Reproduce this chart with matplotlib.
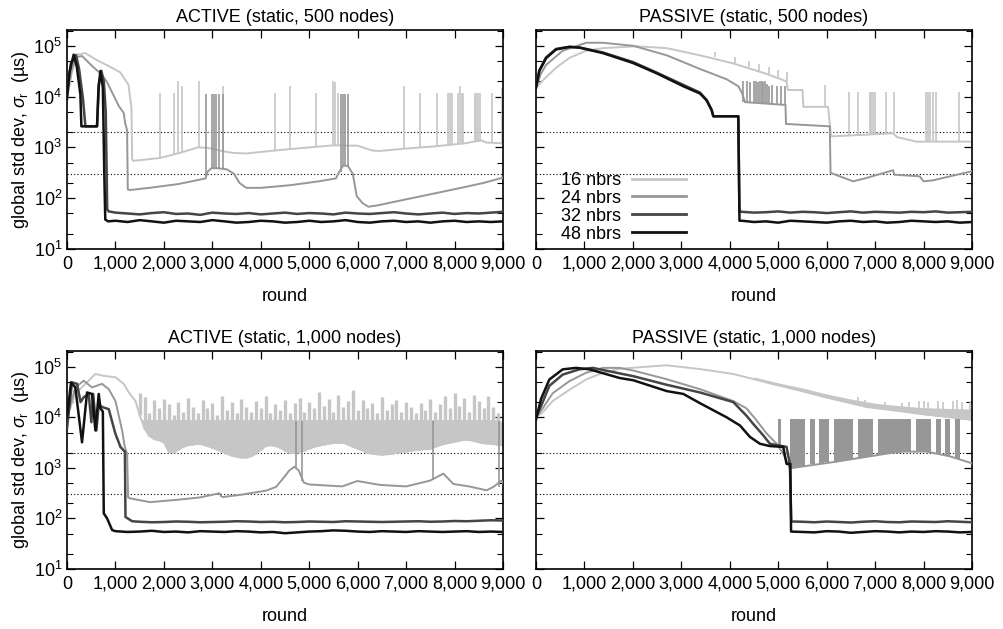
import numpy as np
import matplotlib
matplotlib.use('Agg')
import matplotlib.pyplot as plt
from matplotlib.lines import Line2D
from matplotlib.ticker import FuncFormatter, LogLocator

plt.rcParams['font.family'] = ['Liberation Sans', 'DejaVu Sans']
plt.rcParams['mathtext.fontset'] = 'custom'
plt.rcParams['mathtext.rm'] = 'Liberation Sans'
plt.rcParams['mathtext.it'] = 'Liberation Sans:italic'

## colours for 16 / 24 / 32 / 48 neighbours
c16, c24, c32, c48 = '#c6c6c6', '#979797', '#454545', '#111111'
labels = ['16 nbrs', '24 nbrs', '32 nbrs', '48 nbrs']
thresholds = [2000, 300]

### ACTIVE, 500 nodes
a5_x16 = [0, 100, 207, 380, 590, 860, 1100, 1270, 1330, 1345, 1360, 1500, 1920, 2330, 2700, 2900, 3220, 3430, 3700,
          4400, 5000, 5500, 6000, 6300, 6450, 7000, 7600, 8200, 8550, 8650, 9000]
a5_y16 = [9000, 3e4, 6.7e4, 7.2e4, 5.4e4, 4e4, 3e4, 1.7e4, 6000, 600, 545, 560, 620, 780, 1000, 980, 840, 780, 760,
          890, 1000, 1100, 1080, 870, 850, 950, 1050, 1200, 1380, 1250, 1200]
a5_s16x = [1920, 2200, 2300, 2370, 2720, 3220, 4300, 4610, 5140, 5500, 5530, 5590, 6950, 7290, 7640, 7870, 7900,
           7940, 8080, 8110, 8150, 8180, 8420, 8450, 8490, 8520, 8780, 8980]
a5_s16lo = [620, 740, 770, 790, 1000, 840, 850, 900, 1000, 1100, 1100, 1100, 950, 1000, 1050, 1100, 1100, 1100,
            1150, 1150, 1150, 1150, 1250, 1250, 1300, 1300, 1250, 1200]
a5_s16hi = [1.2e4, 1.2e4, 2e4, 1.6e4, 2e4, 1.6e4, 1.2e4, 1.65e4, 1.2e4, 2e4, 1.9e4, 1.2e4, 1.65e4, 1.2e4, 1.2e4,
            1.2e4, 1.2e4, 1.2e4, 1.2e4, 1.65e4, 1.2e4, 1.2e4, 1.2e4, 1.2e4, 1.2e4, 1.2e4, 1.2e4, 1.5e4]

a5_x24 = [0, 100, 200, 310, 520, 720, 830, 1070, 1170, 1200, 1240, 1255, 1300, 1700, 2300, 2860, 2900, 2980, 3100,
          3300, 3450, 3560, 3700, 4000, 4600, 5200, 5550, 5620, 5700, 5800, 5900, 5980, 6100, 6220, 6400, 7000,
          7600, 8200, 8600, 9000]
a5_y24 = [1e4, 3.5e4, 6e4, 6.3e4, 4e4, 2.7e4, 1.9e4, 6500, 4800, 3000, 2200, 148, 145, 160, 190, 245, 330, 390,
          390, 370, 300, 200, 160, 160, 180, 215, 245, 330, 440, 430, 300, 110, 80, 68, 72, 95, 125, 165, 200, 255]
a5_s24x = [2870, 2990, 3030, 3070, 3140, 3230, 5650, 5690, 5745, 5810]
a5_s24lo = [245, 385, 390, 390, 390, 380, 330, 430, 440, 430]
a5_s24hi = [1.15e4] * 10

a5_x32 = [0, 80, 186, 250, 330, 380, 620, 660, 710, 760, 800, 830, 860]
a5_y32 = [1.2e4, 4.5e4, 6.6e4, 3.5e4, 9000, 2600, 2600, 1.8e4, 3.2e4, 2e4, 5000, 60, 55]
a5_x48 = [0, 50, 138, 200, 276, 297, 620, 650, 690, 740, 770, 790, 850]
a5_y48 = [9000, 3e4, 6.7e4, 4e4, 1.1e4, 2600, 2600, 1.5e4, 3.2e4, 1.5e4, 300, 38, 35]
a5_tail_x = np.arange(1000, 9001, 250)
a5_tail32 = [52, 50, 48, 51, 53, 49, 50, 47, 52, 50, 49, 51, 48, 50, 52, 49, 51, 50, 48, 52, 50, 49, 51, 53, 50,
             48, 50, 52, 49, 51, 50, 52, 54]
a5_tail48 = [36, 34, 37, 35, 33, 36, 35, 34, 37, 35, 33, 34, 36, 35, 33, 34, 36, 34, 35, 37, 34, 33, 35, 36, 34,
             35, 33, 35, 36, 34, 35, 34, 35]

### PASSIVE, 500 nodes
p5_x16 = [0, 100, 207, 414, 690, 1034, 1379, 2069, 2700, 3386, 4073, 4760, 5170, 5200, 5500, 5520, 6030, 6090,
          6820, 7370, 7450, 7850, 9000]
p5_y16 = [1.5e4, 1.9e4, 2.4e4, 3.7e4, 5.8e4, 8e4, 9e4, 9.8e4, 9e4, 6.5e4, 4.5e4, 2.8e4, 2e4, 1.35e4, 1.35e4, 6300,
          6300, 1650, 1780, 1900, 1600, 1300, 1300]
p5_s16x = [3700, 4100, 4400, 4600, 4800, 5000, 5180, 5960, 6460, 6650, 6890, 6920, 6960, 6990, 7230, 7400, 8060,
           8100, 8140, 8200, 8260, 8740]
p5_s16lo = [6e4, 4.6e4, 3.8e4, 3.2e4, 2.8e4, 2.4e4, 2e4, 6300, 1700, 1750, 1780, 1780, 1790, 1790, 1850, 1900,
            1300, 1300, 1300, 1300, 1300, 1300]
p5_s16hi = [7.5e4, 6e4, 5e4, 4.4e4, 3.8e4, 3.4e4, 3e4, 1.7e4, 1.25e4, 1.25e4, 1.25e4, 1.25e4, 1.25e4, 1.25e4,
            1.25e4, 1.25e4, 1.25e4, 1.25e4, 1.25e4, 1.25e4, 1.25e4, 1.25e4]

p5_x24 = [0, 100, 207, 552, 1034, 1379, 2012, 2700, 3386, 3935, 4176, 4250, 4313, 5103, 5150, 5160, 6065, 6080,
          6545, 6820, 7370, 7400, 7920, 8000, 8194, 9000]
p5_y24 = [1.5e4, 2.8e4, 4.2e4, 8e4, 1.15e5, 1.15e5, 1e5, 6.5e4, 3.5e4, 2.2e4, 1.6e4, 1.2e4, 7800, 6900, 6900,
          2900, 2600, 316, 215, 250, 355, 290, 270, 215, 225, 340]
p5_s24x = [4280, 4350, 4420, 4490, 4550, 4590, 4620, 4660, 4690, 4730, 4760, 4810, 4880, 4970, 5050, 5140]
p5_s24lo = [7700, 7600, 7500, 7400, 7400, 7300, 7300, 7300, 7200, 7200, 7200, 7100, 7100, 7000, 6900, 6900]
p5_s24hi = [2e4, 2e4, 1.9e4, 2e4, 2e4, 1.9e4, 2e4, 2e4, 1.9e4, 2e4, 1.8e4, 1.6e4, 1.7e4, 1.6e4, 1.6e4, 1.6e4]

p5_x32 = [0, 69, 207, 414, 690, 897, 1379, 2000, 2483, 3042, 3386, 3523, 3626, 3660, 4176, 4200]
p5_y32 = [1.5e4, 3.3e4, 5.9e4, 8.7e4, 9.6e4, 9.3e4, 7.4e4, 4.8e4, 3e4, 1.7e4, 1.2e4, 8600, 5500, 4100, 4100, 55]
p5_x48 = [0, 69, 207, 414, 690, 897, 1379, 2000, 2483, 3042, 3386, 3523, 3626, 3660, 4176, 4200]
p5_y48 = [1.5e4, 3.2e4, 5.7e4, 8.5e4, 9.5e4, 9.2e4, 7.2e4, 4.6e4, 2.9e4, 1.6e4, 1.15e4, 8400, 5400, 4100, 4100, 36]
p5_tail_x = np.arange(4250, 9001, 250)
p5_tail32 = [54, 52, 53, 55, 52, 54, 53, 51, 53, 55, 52, 54, 53, 52, 54, 53, 55, 52, 53, 54]
p5_tail48 = [36, 34, 35, 33, 36, 35, 34, 33, 35, 36, 34, 35, 33, 34, 36, 35, 34, 35, 33, 34]

### ACTIVE, 1,000 nodes
a1_x16 = [0, 172, 380, 586, 759, 1000, 1172, 1276, 1414]
a1_y16 = [1e4, 2.9e4, 4.6e4, 7.2e4, 6.6e4, 6.2e4, 4.6e4, 3.1e4, 2.1e4]
a1_band_x = np.arange(1500, 9001, 100)
a1_band_lo = [1.1e4, 6000, 4300, 3700, 3500, 3200, 2100, 2000, 2300, 2600,
              2800, 2900, 3000, 2900, 2700, 2500, 2300, 2100, 1900, 1750,
              1650, 1600, 1600, 1700, 1900, 2300, 2700, 2800, 2700, 2500,
              2200, 2000, 2000, 2100, 2200, 2400, 2600, 2750, 2900, 3000,
              3100, 3150, 3100, 2900, 2600, 2400, 2200, 2000, 1900, 1850,
              1820, 1850, 1900, 2000, 2050, 2100, 2200, 2250, 2300, 2350,
              2400, 2600, 2800, 3000, 3150, 3300, 3450, 3600, 3550, 3400,
              3200, 3050, 3000, 2950, 2850, 2800]
a1_band_hi = [3e4, 2.5e4, 1.2e4, 2.2e4, 1.5e4, 2.3e4, 1.8e4, 1.1e4, 2e4, 1.3e4,
              2.4e4, 1.6e4, 1.2e4, 2.2e4, 1.5e4, 1.9e4, 1.1e4, 2.7e4, 1.4e4, 2e4,
              1.2e4, 2.3e4, 1.6e4, 1.3e4, 2.1e4, 1.5e4, 2.6e4, 1.2e4, 1.8e4, 1.4e4,
              2.2e4, 1.2e4, 1.9e4, 2.4e4, 1.3e4, 2e4, 1.5e4, 3.2e4, 1.7e4, 2.3e4,
              1.3e4, 2.8e4, 1.6e4, 2.1e4, 3.4e4, 1.4e4, 2.2e4, 1.5e4, 1.9e4, 1.2e4,
              2.5e4, 1.4e4, 1.8e4, 2.2e4, 1.3e4, 2e4, 1.6e4, 1.2e4, 1.9e4, 1.4e4,
              2.3e4, 1.3e4, 1.8e4, 2.6e4, 1.5e4, 3e4, 1.7e4, 2.4e4, 1.3e4, 2.8e4,
              2.1e4, 1.5e4, 2.6e4, 1.6e4, 1.2e4, 8000]
a1_band_solid = 9000

a1_x24 = [0, 172, 345, 517, 724, 862, 1000, 1138, 1193, 1241, 1262, 1300, 1712, 2300, 2740, 3150, 3180, 3220, 3600,
          4110, 4315, 4450, 4590, 4690, 4780, 4890, 5000, 5680, 5994, 6462, 7000, 7494, 7769, 7975, 8300, 8663,
          8800, 8970, 9000]
a1_y24 = [1e4, 3.9e4, 5.3e4, 3.9e4, 4.6e4, 3.6e4, 2.1e4, 5500, 2600, 1900, 260, 250, 210, 235, 260, 315, 275, 265,
          295, 355, 420, 600, 890, 1050, 900, 510, 470, 430, 550, 460, 430, 560, 770, 480, 430, 360, 420, 560, 500]
a1_s24x = [4720, 4860, 7560, 8925]
a1_s24lo = [1000, 560, 580, 420]
a1_s24hi = [8300, 8300, 8300, 8300]

a1_x32 = [0, 103, 207, 280, 345, 448, 503, 540, 607, 655, 724, 862, 1000, 1103, 1172, 1195, 1207, 1345]
a1_y32 = [6000, 4.9e4, 4.6e4, 2e4, 2.5e4, 2.9e4, 8000, 2.9e4, 5500, 1.8e4, 1.6e4, 1.45e4, 4700, 2600, 2200, 2100,
          107, 88]
a1_tail32_x = np.arange(1500, 9001, 250)
a1_tail32 = [86, 84, 85, 87, 86, 84, 85, 86, 88, 87, 85, 86, 84, 85, 87, 86, 85, 88, 87, 86, 85, 86, 87, 88, 86,
             87, 89, 88, 90, 92, 91]
a1_x48 = [0, 83, 172, 310, 414, 517, 586, 655, 690, 740, 759, 828, 931]
a1_y48 = [1e4, 4.9e4, 3.9e4, 3200, 3.1e4, 2.9e4, 5500, 2.9e4, 1.5e4, 1.3e4, 126, 100, 59]
a1_tail48_x = np.arange(1000, 9001, 250)
a1_tail48 = [56, 54, 55, 57, 54, 55, 53, 56, 55, 54, 56, 55, 53, 54, 51, 53, 55, 56, 58, 57, 55, 54, 56, 55, 54,
             56, 55, 54, 55, 56, 54, 55, 54]

### PASSIVE, 1,000 nodes
p1_x16 = [0, 138, 345, 690, 1034, 1379, 1724, 2276, 2690, 3386, 4073, 4760, 5447, 6133, 6820, 7507, 8194, 9000]
p1_y16 = [1e4, 1.25e4, 2.1e4, 3.5e4, 5.6e4, 7.6e4, 9.1e4, 1e5, 1.07e5, 9e4, 7.2e4, 4.9e4, 3.4e4, 2.3e4, 1.6e4,
          1.35e4, 1.1e4, 9000]
p1_b16x = [4500, 5000, 5500, 6000, 6500, 7000, 7500, 8000, 8500, 9000]
p1_b16lo = [5.6e4, 4.2e4, 3.2e4, 2.4e4, 1.9e4, 1.5e4, 1.3e4, 1.12e4, 1e4, 8700]
p1_b16hi = [6.3e4, 4.8e4, 3.8e4, 2.9e4, 2.3e4, 1.9e4, 1.7e4, 1.55e4, 1.5e4, 1.45e4]
p1_s16x = [6650, 6800, 7200, 7550, 7700, 7900, 8000, 8100, 8300, 8400, 8600, 8700, 8800, 8950]
p1_s16lo = [1.8e4, 1.7e4, 1.5e4, 1.3e4, 1.25e4, 1.2e4, 1.15e4, 1.1e4, 1.05e4, 1e4, 9500, 9300, 9000, 8800]
p1_s16hi = [2.5e4, 2.2e4, 2e4, 1.9e4, 2e4, 2.1e4, 2.1e4, 2e4, 2.1e4, 2e4, 2.1e4, 2.2e4, 2e4, 2.1e4]

p1_x24 = [0, 138, 345, 690, 1034, 1379, 1724, 2012, 2690, 3386, 4073, 4347, 4553, 4760, 4966, 5103, 5240, 5300,
          6133, 6820, 7507, 8056, 8537, 9000]
p1_y24 = [1e4, 1.5e4, 3e4, 5.2e4, 7.6e4, 9.5e4, 9.5e4, 8.4e4, 5.7e4, 3.6e4, 2.1e4, 1.5e4, 8700, 4800, 3000, 1900,
          980, 1000, 1300, 1650, 2100, 2100, 1700, 1230]
p1_band_x = np.arange(5000, 8801, 100)
p1_band_lo = [2800, 1900, 1200, 1000, 1050, 1100, 1150, 1200, 1230, 1260,
              1300, 1330, 1370, 1400, 1450, 1500, 1550, 1600, 1650, 1700,
              1750, 1800, 1850, 1900, 1950, 2000, 2050, 2100, 2100, 2100,
              2100, 2050, 2000, 1900, 1800, 1700, 1600, 1500, 1400]
p1_band_on = [1, 0, 0, 1, 1, 1, 0, 1, 0, 1,
              1, 0, 1, 1, 1, 1, 0, 1, 1, 1,
              0, 1, 1, 1, 1, 1, 1, 1, 0, 1,
              1, 1, 0, 1, 0, 1, 0, 1, 0]
p1_band_top = 9300

p1_x32 = [0, 103, 276, 552, 897, 1172, 1724, 2012, 2700, 3386, 4073, 4347, 4485, 4691, 4828, 5172, 5240, 5270]
p1_y32 = [1e4, 1.65e4, 4.2e4, 7e4, 8.9e4, 9.5e4, 7.4e4, 6.5e4, 4.4e4, 3.1e4, 2e4, 1.07e4, 7400, 4400, 3000, 2600,
          1200, 87]
p1_x48 = [0, 103, 276, 552, 828, 1103, 1724, 2012, 2700, 3042, 3386, 3935, 4210, 4416, 4622, 4828, 5103, 5172,
          5250, 5265]
p1_y48 = [9000, 2.3e4, 5.6e4, 8.9e4, 9.5e4, 8.9e4, 6e4, 5.4e4, 3.3e4, 2.9e4, 1.9e4, 1e4, 6900, 4100, 3000, 2700,
          2600, 1200, 1200, 55]
p1_tail_x = np.arange(5500, 9001, 250)
p1_tail32 = [86, 84, 87, 85, 83, 86, 88, 85, 84, 87, 86, 85, 88, 86, 84]
p1_tail48 = [54, 53, 56, 55, 52, 54, 56, 55, 53, 55, 54, 56, 55, 53, 54]

## Figure
fig = plt.figure(figsize=(10.04, 6.29), dpi=100)
W, H = 1004.0, 629.0
axA5 = fig.add_axes([67 / W, 1 - 249 / H, 436 / W, 219 / H])
axP5 = fig.add_axes([536 / W, 1 - 249 / H, 436 / W, 219 / H])
axA1 = fig.add_axes([67 / W, 1 - 569 / H, 436 / W, 218 / H])
axP1 = fig.add_axes([536 / W, 1 - 569 / H, 436 / W, 218 / H])

fs = 13
lw = 1.4
lwn = 1.8


def spikes(ax, x, lo, hi, c, w=1.2):
    ax.vlines(x, lo, hi, colors=c, lw=w, zorder=2)


# ACTIVE 500
ax = axA5
spikes(ax, a5_s16x, a5_s16lo, a5_s16hi, c16)
ax.plot(a5_x16, a5_y16, color=c16, lw=lw, zorder=2)
spikes(ax, a5_s24x, a5_s24lo, a5_s24hi, c24)
ax.plot(a5_x24, a5_y24, color=c24, lw=lw, zorder=3)
ax.plot(list(a5_x32) + list(a5_tail_x), a5_y32 + a5_tail32, color=c32, lw=lwn, zorder=4)
ax.plot(list(a5_x48) + list(a5_tail_x), a5_y48 + a5_tail48, color=c48, lw=lwn, zorder=5)
ax.set_title('ACTIVE (static, 500 nodes)', fontsize=fs, pad=6)

# PASSIVE 500
ax = axP5
spikes(ax, p5_s16x, p5_s16lo, p5_s16hi, c16)
ax.plot(p5_x16, p5_y16, color=c16, lw=lw, zorder=2)
spikes(ax, p5_s24x, p5_s24lo, p5_s24hi, c24)
ax.plot(p5_x24, p5_y24, color=c24, lw=lw, zorder=3)
ax.plot(list(p5_x32) + list(p5_tail_x), p5_y32 + p5_tail32, color=c32, lw=lwn, zorder=4)
ax.plot(list(p5_x48) + list(p5_tail_x), p5_y48 + p5_tail48, color=c48, lw=lwn, zorder=5)
ax.set_title('PASSIVE (static, 500 nodes)', fontsize=fs, pad=6)

# ACTIVE 1000: dense band of spikes above the 16 nbrs curve
ax = axA1
ax.fill_between(a1_band_x, a1_band_lo, np.minimum(a1_band_hi, a1_band_solid), color=c16, lw=0, zorder=2)
spikes(ax, a1_band_x, a1_band_lo, a1_band_hi, c16, w=2.4)
ax.plot(list(a1_x16) + list(a1_band_x), a1_y16 + a1_band_lo, color=c16, lw=lw, zorder=2)
spikes(ax, a1_s24x, a1_s24lo, a1_s24hi, c24)
ax.plot(a1_x24, a1_y24, color=c24, lw=lw, zorder=3)
ax.plot(list(a1_x32) + list(a1_tail32_x), a1_y32 + a1_tail32, color=c32, lw=lwn, zorder=4)
ax.plot(list(a1_x48) + list(a1_tail48_x), a1_y48 + a1_tail48, color=c48, lw=lwn, zorder=5)
ax.set_title('ACTIVE (static, 1,000 nodes)', fontsize=fs, pad=6)

# PASSIVE 1000
ax = axP1
ax.fill_between(p1_b16x, p1_b16lo, p1_b16hi, color=c16, lw=0, zorder=2)
spikes(ax, p1_s16x, p1_s16lo, p1_s16hi, c16)
ax.plot(p1_x16, p1_y16, color=c16, lw=lw, zorder=2)
band_hi = np.where(np.array(p1_band_on) == 1, p1_band_top, p1_band_lo)
ax.fill_between(p1_band_x, p1_band_lo, band_hi, step='mid', color=c24, lw=0, zorder=3)
ax.plot(p1_x24, p1_y24, color=c24, lw=lw, zorder=3)
ax.plot(list(p1_x32) + list(p1_tail_x), p1_y32 + p1_tail32, color=c32, lw=lwn, zorder=4)
ax.plot(list(p1_x48) + list(p1_tail_x), p1_y48 + p1_tail48, color=c48, lw=lwn, zorder=5)
ax.set_title('PASSIVE (static, 1,000 nodes)', fontsize=fs, pad=6)

for ax in [axA5, axP5, axA1, axP1]:
    ax.set_yscale('log')
    ax.set_ylim(10, 2.05e5)
    ax.set_xlim(0, 9000)
    for t in thresholds:
        ax.axhline(t, color='black', lw=0.8, ls=(0, (1, 2)), zorder=1)
    ax.set_xticks(range(0, 9001, 1000))
    ax.xaxis.set_major_formatter(FuncFormatter(lambda v, p: '{:,}'.format(int(v))))
    ax.yaxis.set_major_locator(LogLocator(base=10, numticks=10))
    ax.yaxis.set_minor_locator(LogLocator(base=10, subs=(2, 5), numticks=10))
    ax.tick_params(which='both', direction='in', top=True, right=True, labelsize=fs)
    ax.tick_params(which='major', length=6, width=0.9)
    ax.tick_params(which='minor', length=4, width=0.8)
    ax.tick_params(axis='x', pad=5)
    ax.set_xlabel('round', fontsize=fs, labelpad=11)
    for s in ax.spines.values():
        s.set_linewidth(1.2)

for ax in [axA5, axA1]:
    ax.set_ylabel(r'global std dev, $\sigma_{\mathrm{r}}$  (µs)', fontsize=fs, labelpad=2)
for ax in [axP5, axP1]:
    ax.tick_params(axis='y', which='both', labelleft=False)

handles = [Line2D([], [], color=c, lw=2) for c in [c16, c24, c32, c48]]
axP5.legend(handles, labels, loc='lower left', bbox_to_anchor=(0.02, -0.045), frameon=False, markerfirst=False,
            fontsize=fs, handlelength=3.0, labelspacing=0.05, handletextpad=0.6)

fig.savefig('out.png', dpi=100)
